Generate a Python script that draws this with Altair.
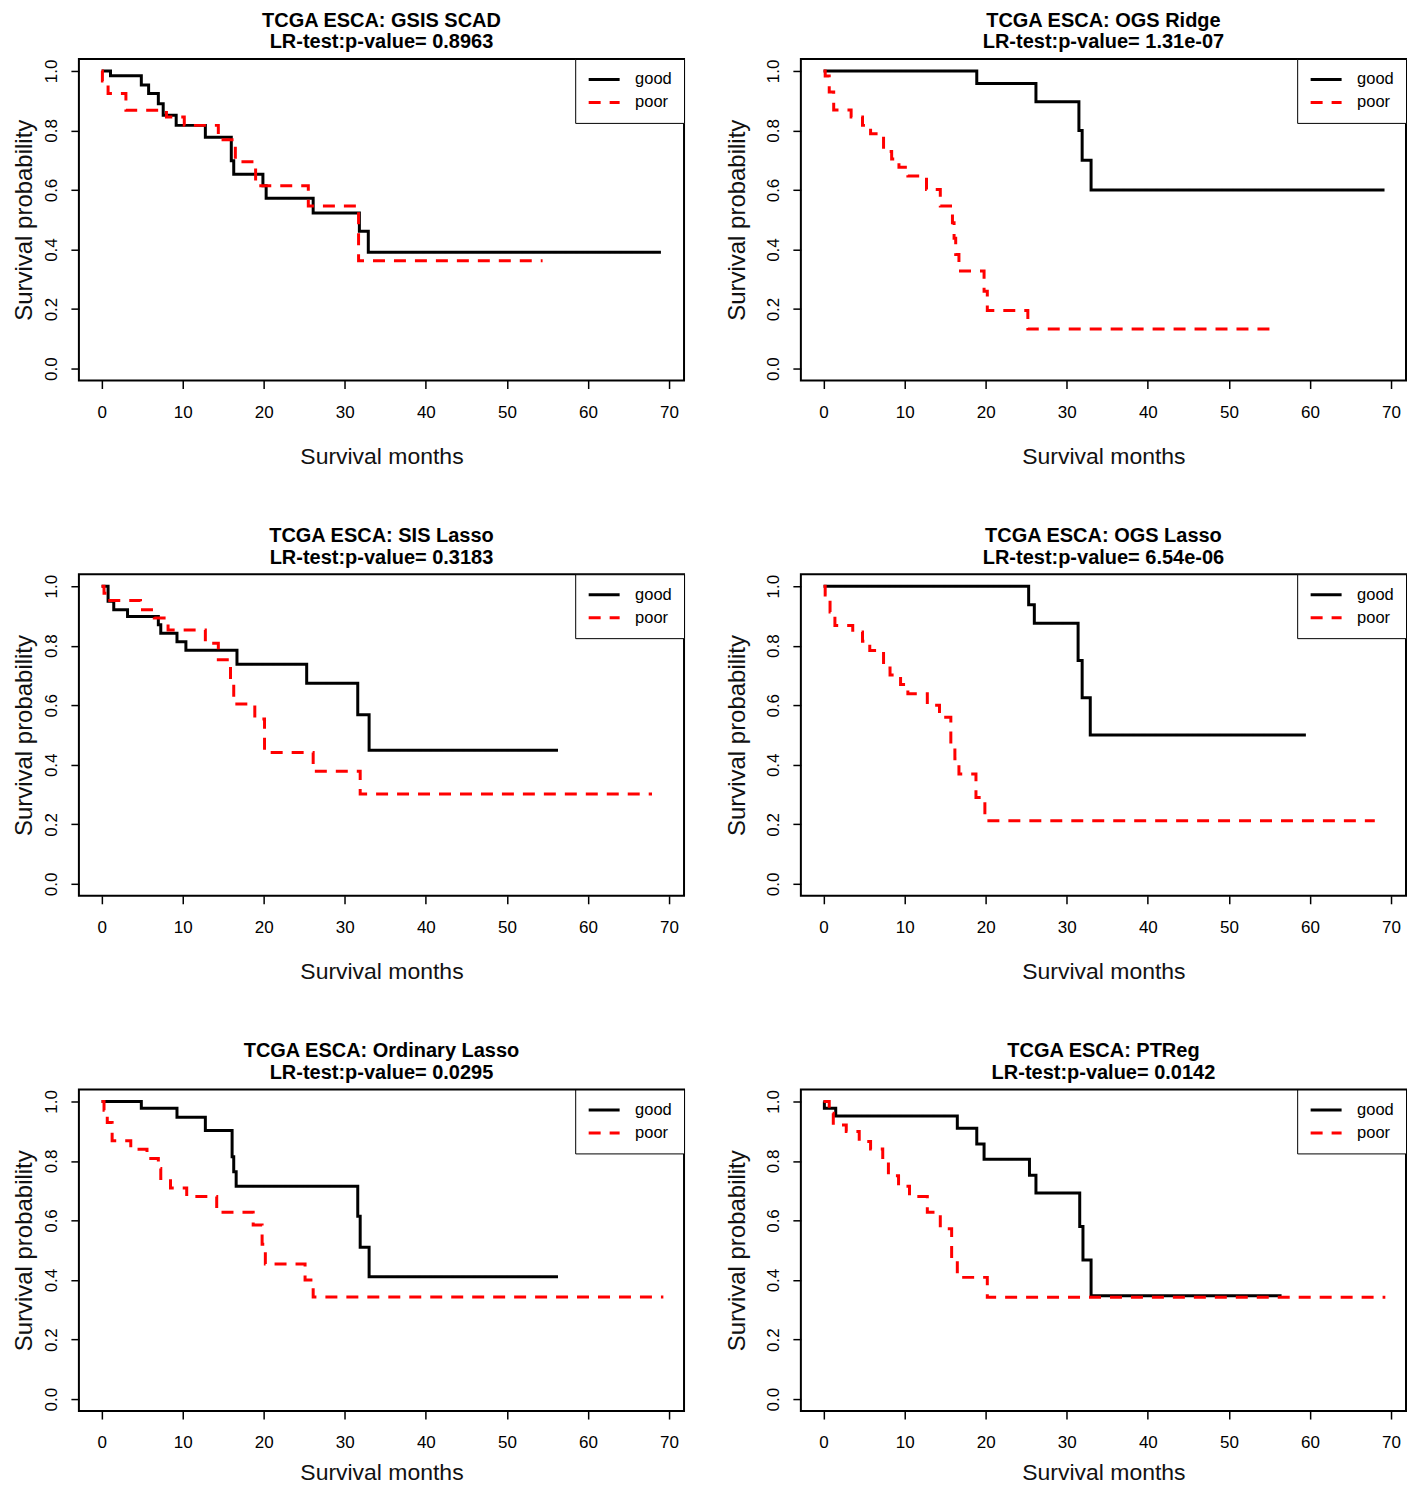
import altair as alt
import pandas as pd

FONT = "Liberation Sans, Arial, Helvetica, sans-serif"

# ---- panel titles -------------------------------------------------------
panel_titles = [
    "TCGA ESCA: GSIS SCAD",
    "TCGA ESCA: OGS Ridge",
    "TCGA ESCA: SIS Lasso",
    "TCGA ESCA: OGS Lasso",
    "TCGA ESCA: Ordinary Lasso",
    "TCGA ESCA: PTReg",
]
p_values = ["0.8963", "1.31e-07", "0.3183", "6.54e-06", "0.0295", "0.0142"]
groups = ["good", "poor"]

# ---- Kaplan-Meier step data (time in months, survival probability) -------
gsis_good_t = [0, 1.1, 4.9, 5.8, 7.0, 7.6, 9.2, 12.8, 16.0, 16.3, 19.9, 20.3, 26.1, 31.8, 32.9, 69.0]
gsis_good_s = [1.0, 0.984, 0.953, 0.924, 0.890, 0.851, 0.817, 0.777, 0.698, 0.653, 0.614, 0.572, 0.523, 0.461, 0.391, 0.391]
gsis_poor_t = [0, 0.1, 0.8, 3.0, 8.0, 10.2, 14.4, 16.5, 19.0, 25.5, 31.7, 54.4]
gsis_poor_s = [1.0, 0.966, 0.924, 0.868, 0.845, 0.817, 0.769, 0.695, 0.614, 0.546, 0.362, 0.362]

ogsr_good_t = [0, 18.9, 26.2, 31.5, 31.9, 33.0, 69.2]
ogsr_good_s = [1.0, 0.958, 0.896, 0.800, 0.700, 0.600, 0.600]
ogsr_poor_t = [0, 0.2, 0.7, 1.25, 3.4, 4.8, 5.8, 7.4, 8.4, 9.3, 10.4, 12.7, 14.4, 15.9, 16.1, 16.3, 16.7, 19.8, 20.2, 25.2, 55.9]
ogsr_poor_s = [1.0, 0.983, 0.929, 0.869, 0.845, 0.817, 0.789, 0.729, 0.704, 0.676, 0.647, 0.602, 0.546, 0.49, 0.438, 0.383, 0.328, 0.26, 0.195, 0.133, 0.133]

sisl_good_t = [0, 0.8, 1.5, 3.2, 7.0, 7.3, 9.3, 10.4, 16.7, 25.3, 31.6, 33.0, 56.3]
sisl_good_s = [1.0, 0.949, 0.921, 0.898, 0.870, 0.842, 0.813, 0.785, 0.738, 0.674, 0.568, 0.449, 0.449]
sisl_poor_t = [0, 0.3, 0.8, 4.8, 6.5, 8.2, 12.8, 14.4, 15.9, 16.3, 18.9, 20.1, 26.1, 31.9, 67.9]
sisl_poor_s = [1.0, 0.976, 0.952, 0.921, 0.893, 0.853, 0.808, 0.753, 0.68, 0.604, 0.554, 0.441, 0.378, 0.302, 0.302]

ogsl_good_t = [0, 25.3, 26.0, 31.4, 31.9, 32.9, 59.5]
ogsl_good_s = [1.0, 0.9375, 0.875, 0.75, 0.625, 0.5, 0.5]
ogsl_poor_t = [0, 0.2, 0.8, 1.4, 3.6, 4.8, 5.7, 7.4, 8.2, 9.5, 10.4, 12.8, 14.3, 15.7, 16.2, 16.7, 18.8, 19.9, 68.0]
ogsl_poor_s = [1.0, 0.97, 0.913, 0.868, 0.846, 0.815, 0.784, 0.725, 0.702, 0.67, 0.639, 0.60, 0.56, 0.47, 0.42, 0.369, 0.29, 0.212, 0.212]

ordl_good_t = [0, 4.9, 9.3, 12.8, 16.1, 16.3, 16.6, 31.6, 31.9, 33.0, 56.3]
ordl_good_s = [1.0, 0.977, 0.947, 0.902, 0.814, 0.764, 0.715, 0.614, 0.51, 0.411, 0.411]
ordl_poor_t = [0, 0.3, 0.7, 1.3, 3.6, 5.6, 7.0, 7.3, 8.5, 10.5, 14.2, 18.7, 19.8, 20.2, 25.1, 26.1, 69.3]
ordl_poor_s = [1.0, 0.97, 0.929, 0.868, 0.839, 0.808, 0.775, 0.741, 0.709, 0.681, 0.628, 0.585, 0.52, 0.454, 0.40, 0.343, 0.343]

ptreg_good_t = [0, 0.1, 1.5, 16.5, 18.9, 19.8, 25.4, 26.2, 31.6, 32.0, 33.0, 56.5]
ptreg_good_s = [1.0, 0.977, 0.951, 0.91, 0.857, 0.806, 0.752, 0.692, 0.58, 0.467, 0.347, 0.347]
ptreg_poor_t = [0, 0.7, 1.2, 2.8, 4.4, 5.8, 7.3, 8.0, 9.25, 10.6, 12.8, 14.4, 15.8, 16.5, 20.2, 69.3]
ptreg_poor_s = [1.0, 0.96, 0.921, 0.899, 0.865, 0.84, 0.80, 0.75, 0.715, 0.681, 0.628, 0.572, 0.465, 0.409, 0.342, 0.342]

x_ticks = [0, 10, 20, 30, 40, 50, 60, 70]
y_ticks = [0.0, 0.2, 0.4, 0.6, 0.8, 1.0]

panel_data = [
    (gsis_good_t, gsis_good_s, gsis_poor_t, gsis_poor_s),
    (ogsr_good_t, ogsr_good_s, ogsr_poor_t, ogsr_poor_s),
    (sisl_good_t, sisl_good_s, sisl_poor_t, sisl_poor_s),
    (ogsl_good_t, ogsl_good_s, ogsl_poor_t, ogsl_poor_s),
    (ordl_good_t, ordl_good_s, ordl_poor_t, ordl_poor_s),
    (ptreg_good_t, ptreg_good_s, ptreg_poor_t, ptreg_poor_s),
]

PW, PH = 606, 322


def make_panel(i):
    gt, gs, pt, ps = panel_data[i]
    rows = []
    for k, (t, s) in enumerate(zip(gt, gs)):
        rows.append({"time": t, "surv": s, "group": "good", "k": k})
    for k, (t, s) in enumerate(zip(pt, ps)):
        rows.append({"time": t, "surv": s, "group": "poor", "k": k})
    df = pd.DataFrame(rows)
    left = (i % 2 == 0)
    bottom_row = (i >= 4)

    x = alt.X(
        "time:Q",
        scale=alt.Scale(domain=[-2.8, 71.85], nice=False, zero=False),
        axis=alt.Axis(
            values=x_ticks, title="Survival months", domain=False, grid=False,
            tickSize=8, tickWidth=1.5, tickColor="black",
            labelFont=FONT, labelFontSize=17, labelColor="black", labelPadding=16,
            labelFlush=False, labelOverlap=False,
            titleFont=FONT, titleFontSize=23, titleFontWeight="normal", titleColor="#111111",
            titleY=62 if bottom_row else 76, titleBaseline="middle",
        ),
    )
    y = alt.Y(
        "surv:Q",
        scale=alt.Scale(domain=[-0.04, 1.04], nice=False, zero=False),
        axis=alt.Axis(
            values=y_ticks, format=".1f", title="Survival probability", domain=False, grid=False,
            tickSize=8, tickWidth=1.5, tickColor="black",
            labelFont=FONT, labelFontSize=17, labelColor="black", labelAngle=270,
            labelAlign="center", labelBaseline="alphabetic", labelPadding=14,
            labelFlush=False, labelOverlap=False,
            titleFont=FONT, titleFontSize=24, titleFontWeight="normal", titleColor="#111111",
            titleAngle=270, titleAlign="center", titleBaseline="middle",
            titleX=-54 if left else -63, titleY=PH / 2,
        ),
    )
    leg = alt.Legend(
        title=None, orient="top-right", offset=0, padding=12, rowPadding=6,
        clipHeight=17,
        strokeColor="black", fillColor="white",
        symbolType="stroke", symbolSize=961, symbolStrokeWidth=3,
        labelFont=FONT, labelFontSize=16.5, labelColor="black", labelOffset=14,
    )
    color = alt.Color("group:N", scale=alt.Scale(domain=groups, range=["#000000", "#ff0000"]), legend=leg)
    dash = alt.StrokeDash("group:N", scale=alt.Scale(domain=groups, range=[[1, 0], [12, 9]]), legend=leg)

    return (
        alt.Chart(df)
        .mark_line(interpolate="step-after", strokeWidth=3, clip=True)
        .encode(x=x, y=y, color=color, strokeDash=dash, order="k:Q")
        .properties(
            width=PW, height=PH,
            title=alt.TitleParams(
                text=[panel_titles[i], "LR-test:p-value= " + p_values[i]],
                font=FONT, fontSize=20, fontWeight="bold", lineHeight=22,
                anchor="middle", offset=6, color="black",
            ),
        )
    )


panels = [make_panel(i) for i in range(6)]

chart = (
    alt.concat(*panels, columns=2, spacing={"row": 194, "column": 117}, bounds="flush")
    .resolve_scale(x="independent", y="independent", color="independent", strokeDash="independent")
    .resolve_legend(color="independent", strokeDash="independent")
    .properties(padding={"left": 4, "top": 0, "right": 0, "bottom": 0}, background="white")
    .configure_view(stroke="black", strokeWidth=2)
)

chart.save("out.html", embed_options={"renderer": "svg", "actions": False})
